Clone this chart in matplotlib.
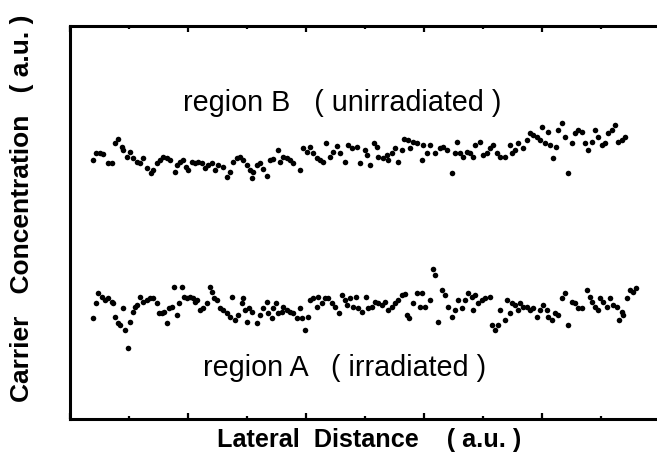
import numpy as np
import matplotlib
matplotlib.use("Agg")
import matplotlib.pyplot as plt
from matplotlib.ticker import MultipleLocator, NullFormatter, NullLocator

# lateral position (a.u.) and carrier concentration (a.u.), region B (unirradiated)
x_b = [0.39, 0.44, 0.51, 0.56, 0.64, 0.71, 0.76, 0.81, 0.88, 0.90, 0.97, 1.02, 1.07, 1.14,
       1.19, 1.24, 1.31, 1.37, 1.41, 1.47, 1.53, 1.58, 1.64, 1.69, 1.78, 1.81, 1.86, 1.92,
       1.97, 2.00, 2.07, 2.12, 2.17, 2.24, 2.29, 2.34, 2.41, 2.46, 2.51, 2.59, 2.66, 2.71,
       2.76, 2.83, 2.88, 2.93, 3.00, 3.05, 3.08, 3.10, 3.17, 3.22, 3.27, 3.34, 3.39, 3.44,
       3.53, 3.56, 3.61, 3.68, 3.73, 3.78, 3.90, 3.95, 4.02, 4.07, 4.12, 4.19, 4.24, 4.29,
       4.34, 4.41, 4.46, 4.53, 4.58, 4.66, 4.71, 4.78, 4.86, 4.92, 5.00, 5.03, 5.08, 5.15,
       5.20, 5.22, 5.31, 5.37, 5.39, 5.46, 5.51, 5.56, 5.63, 5.66, 5.73, 5.76, 5.81, 5.88,
       5.97, 5.98, 6.05, 6.10, 6.19, 6.27, 6.32, 6.39, 6.47, 6.53, 6.56, 6.61, 6.66, 6.73,
       6.78, 6.83, 6.86, 6.95, 7.00, 7.07, 7.12, 7.17, 7.24, 7.29, 7.37, 7.46, 7.49, 7.54,
       7.59, 7.68, 7.75, 7.80, 7.85, 7.92, 7.97, 8.00, 8.05, 8.10, 8.14, 8.19, 8.24, 8.27,
       8.34, 8.39, 8.44, 8.51, 8.56, 8.61, 8.68, 8.73, 8.78, 8.85, 8.90, 8.95, 9.02, 9.07,
       9.12, 9.19, 9.24, 9.29, 9.36, 9.41]
y_b = [25.9, 26.6, 26.6, 26.5, 25.6, 25.6, 27.6, 28.0, 27.2, 26.9, 26.2, 26.7, 26.1, 25.7,
       25.6, 26.1, 25.1, 24.6, 24.9, 25.6, 25.9, 26.2, 26.1, 25.9, 24.7, 25.4, 25.7, 25.9,
       25.2, 24.9, 25.7, 25.6, 25.7, 25.6, 25.1, 25.4, 25.6, 24.9, 25.4, 25.2, 24.2, 24.7,
       25.7, 26.1, 26.2, 25.9, 25.4, 24.9, 24.1, 24.7, 25.4, 25.6, 25.0, 24.3, 25.9, 26.0,
       26.9, 25.7, 26.2, 26.1, 25.9, 25.6, 24.9, 27.1, 26.7, 27.2, 26.6, 26.1, 25.9, 25.7,
       27.6, 26.2, 26.7, 27.3, 26.6, 25.7, 27.4, 27.1, 27.2, 25.6, 26.9, 26.4, 25.4, 27.6,
       27.2, 26.2, 26.1, 26.4, 25.9, 26.6, 27.1, 25.7, 26.9, 28.0, 27.9, 27.1, 27.7, 27.6,
       25.9, 27.4, 26.6, 27.4, 26.6, 27.1, 27.2, 26.9, 24.6, 26.6, 27.7, 26.6, 26.2, 26.7,
       26.6, 26.2, 27.4, 27.7, 26.4, 26.6, 27.1, 27.4, 26.6, 26.2, 26.2, 27.4, 26.6, 26.9,
       27.6, 27.1, 27.9, 28.6, 28.4, 28.2, 27.9, 29.2, 27.6, 28.7, 27.4, 26.1, 27.2, 28.9,
       29.6, 28.2, 24.6, 27.6, 28.6, 28.9, 28.7, 27.6, 26.9, 27.7, 28.9, 28.2, 27.4, 27.6,
       28.6, 28.9, 29.4, 27.7, 27.9, 28.2]

# region A (irradiated)
x_a = [0.39, 0.44, 0.47, 0.54, 0.59, 0.64, 0.71, 0.73, 0.76, 0.81, 0.85, 0.90, 0.93, 0.98,
       1.02, 1.07, 1.10, 1.14, 1.19, 1.24, 1.31, 1.36, 1.41, 1.47, 1.51, 1.56, 1.59, 1.64,
       1.68, 1.73, 1.76, 1.81, 1.85, 1.90, 1.93, 1.98, 2.03, 2.08, 2.12, 2.15, 2.20, 2.25,
       2.32, 2.37, 2.41, 2.44, 2.49, 2.54, 2.59, 2.66, 2.71, 2.75, 2.80, 2.85, 2.92, 2.93,
       2.97, 3.00, 3.03, 3.08, 3.17, 3.22, 3.27, 3.34, 3.36, 3.42, 3.44, 3.49, 3.53, 3.59,
       3.61, 3.68, 3.73, 3.78, 3.85, 3.90, 3.93, 3.98, 4.03, 4.07, 4.12, 4.19, 4.20, 4.27,
       4.32, 4.37, 4.44, 4.49, 4.56, 4.61, 4.66, 4.69, 4.75, 4.80, 4.85, 4.88, 4.95, 5.02,
       5.05, 5.12, 5.17, 5.22, 5.29, 5.34, 5.39, 5.46, 5.51, 5.56, 5.63, 5.68, 5.71, 5.75,
       5.81, 5.88, 5.93, 5.97, 6.02, 6.10, 6.15, 6.19, 6.24, 6.31, 6.36, 6.41, 6.47, 6.53,
       6.58, 6.64, 6.69, 6.75, 6.81, 6.83, 6.86, 6.92, 6.98, 7.03, 7.12, 7.15, 7.20, 7.25,
       7.29, 7.37, 7.41, 7.46, 7.49, 7.54, 7.59, 7.63, 7.68, 7.75, 7.80, 7.85, 7.92, 7.97,
       8.02, 8.08, 8.10, 8.17, 8.22, 8.27, 8.34, 8.39, 8.44, 8.51, 8.56, 8.61, 8.68, 8.76,
       8.81, 8.85, 8.90, 8.95, 8.98, 9.03, 9.10, 9.15, 9.20, 9.27, 9.31, 9.36, 9.37, 9.44,
       9.49, 9.54, 9.59]
y_a = [10.1, 11.6, 12.6, 12.2, 11.9, 12.1, 11.7, 11.6, 10.2, 9.6, 9.4, 11.1, 8.9, 7.1,
       9.7, 10.7, 11.2, 11.4, 12.2, 11.7, 11.9, 12.1, 12.1, 11.6, 10.6, 10.6, 10.7, 9.6,
       11.1, 11.2, 13.2, 10.4, 11.6, 13.2, 12.2, 12.1, 12.2, 12.1, 11.7, 11.9, 10.9, 11.1,
       11.6, 13.2, 12.7, 12.1, 11.9, 11.1, 10.9, 10.6, 10.2, 12.2, 9.9, 10.4, 11.6, 12.1,
       10.9, 9.7, 11.1, 10.7, 9.6, 10.4, 11.1, 11.7, 10.6, 10.1, 11.1, 11.6, 10.6, 10.7,
       11.2, 10.9, 10.7, 10.6, 10.1, 11.1, 10.1, 8.9, 10.2, 11.9, 12.1, 11.2, 12.2, 11.6,
       12.1, 12.1, 11.6, 11.2, 10.6, 12.4, 11.9, 11.4, 12.1, 11.2, 12.2, 11.1, 10.7, 12.2,
       11.1, 11.2, 11.7, 11.6, 11.4, 11.7, 10.9, 11.2, 11.6, 11.9, 12.4, 12.5, 10.4, 10.1,
       11.6, 12.6, 11.2, 12.6, 11.2, 11.9, 15.0, 14.4, 9.7, 12.9, 12.4, 11.2, 10.2, 10.9,
       11.9, 11.1, 11.9, 12.6, 12.2, 10.9, 12.4, 11.6, 11.9, 12.1, 12.2, 9.4, 8.9, 9.4,
       10.9, 9.9, 11.9, 10.6, 11.6, 11.4, 10.9, 11.6, 11.2, 11.2, 10.9, 11.1, 10.2, 10.9,
       11.4, 10.9, 10.2, 9.9, 10.6, 10.4, 12.1, 12.6, 9.4, 11.7, 11.6, 11.1, 11.1, 12.9,
       12.2, 11.7, 11.2, 10.9, 12.1, 11.7, 11.2, 12.1, 11.4, 11.2, 9.9, 10.7, 10.4, 12.1,
       12.9, 12.7, 13.1]

plt.rcParams["font.family"] = ["Liberation Sans", "DejaVu Sans"]

fig = plt.figure(figsize=(6.57, 4.74), dpi=100)
ax = fig.add_axes([70 / 657, 55 / 474, 590 / 657, 392.5 / 474])

ax.plot(x_b, y_b, "o", color="black", ms=4.0, mec="none")
ax.plot(x_a, y_a, "o", color="black", ms=4.0, mec="none")

ax.set_xlim(0, 10)
ax.set_ylim(0, 39.25)

# ticks only along top and bottom, pointing in, no labels
ax.xaxis.set_major_locator(MultipleLocator(2))
ax.xaxis.set_minor_locator(MultipleLocator(1))
ax.xaxis.set_major_formatter(NullFormatter())
ax.yaxis.set_major_locator(NullLocator())
ax.tick_params(axis="x", which="both", direction="in", top=True, bottom=True, width=1.6)
ax.tick_params(axis="x", which="major", length=4)
ax.tick_params(axis="x", which="minor", length=2)
for s in ax.spines.values():
    s.set_linewidth(2.2)

ax.text(1.92, 31.6, "region B   ( unirradiated )", fontsize=20.7, ha="left", va="center")
ax.text(2.25, 5.1, "region A   ( irradiated )", fontsize=20.7, ha="left", va="center")

fig.text(369 / 657, 1 - 440 / 474, "Lateral  Distance    ( a.u. )", fontsize=18.2,
         fontweight="bold", ha="center", va="center")
fig.text(22 / 657, 1 - 208 / 474, "Carrier   Concentration   ( a.u. )", fontsize=19,
         fontweight="bold", ha="center", va="center", rotation=90)

fig.savefig("out.png", dpi=100)
